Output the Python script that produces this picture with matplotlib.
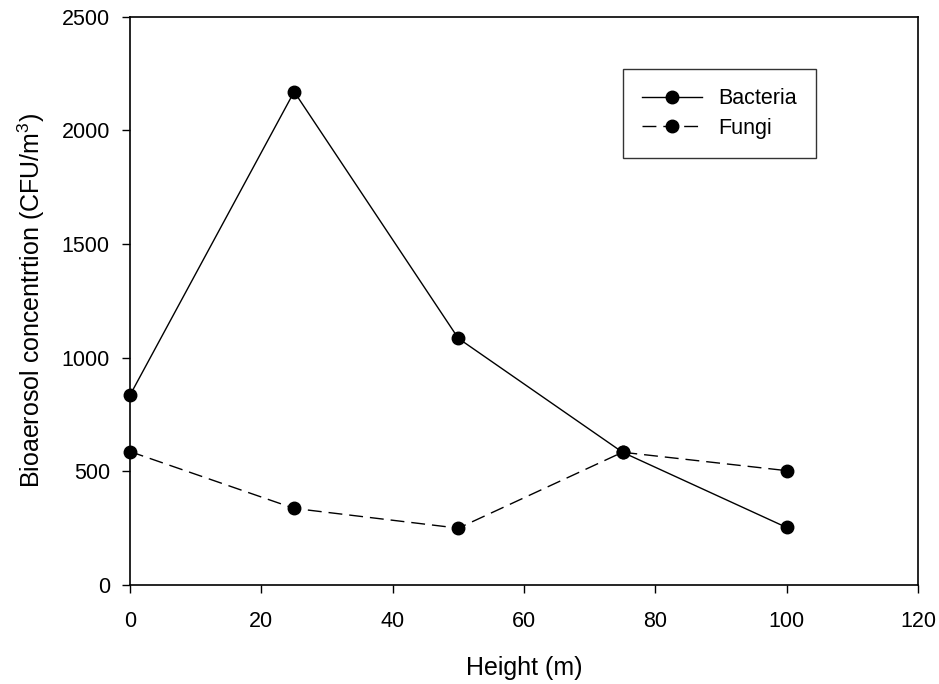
import matplotlib
matplotlib.use("Agg")
import matplotlib.pyplot as plt

plt.rcParams['font.family'] = ['Liberation Sans', 'DejaVu Sans']
plt.rcParams['mathtext.fontset'] = 'custom'
plt.rcParams['mathtext.rm'] = 'Liberation Sans'
plt.rcParams['mathtext.it'] = 'Liberation Sans:italic'
plt.rcParams['mathtext.bf'] = 'Liberation Sans:bold'

height = [0, 25, 50, 75, 100]
bacteria = [835, 2170, 1085, 584, 253]
fungi = [587, 337, 250, 584, 503]
xticks = [0, 20, 40, 60, 80, 100, 120]
yticks = [0, 500, 1000, 1500, 2000, 2500]

fig = plt.figure(figsize=(9.39, 6.84), dpi=100)
ax_h = 585 - 16.7
ax = fig.add_axes([130/939, 1 - 585/684, (918-130)/939, ax_h/684])

ax.plot(height, bacteria, color='black', lw=1.0, marker='o', ms=9, label='Bacteria', clip_on=False, zorder=3)
ax.plot(height, fungi, color='black', lw=1.0, marker='o', ms=9, dashes=(10, 5), label='Fungi', clip_on=False, zorder=3)

ax.set_xlim(0, 120)
ax.set_ylim(0, 2500)
ax.set_xticks(xticks)
ax.set_yticks(yticks)
ax.tick_params(direction='out', length=6, width=1, labelsize=15.5)
ax.tick_params(axis='x', pad=13)
ax.tick_params(axis='y', pad=8.5)
for s in ax.spines.values():
    s.set_linewidth(1.2)

ax.set_xlabel('Height (m)', fontsize=18, va='baseline')
ax.xaxis.set_label_coords(0.5, (585 - 675) / ax_h)
ax.set_ylabel('Bioaerosol concentrtion (CFU/m$^\\mathrm{3}$)', fontsize=18, va='baseline', rotation_mode='anchor')
ax.yaxis.set_label_coords((40 - 130) / 788, 0.5)

leg = ax.legend(loc='upper left', bbox_to_anchor=((622.7-130)/788, 1 - (69-16.7)/ax_h),
                frameon=True, fancybox=False, edgecolor='black', fontsize=15.5,
                handlelength=2.8, borderpad=0.9, labelspacing=0.38, handletextpad=0.75,
                borderaxespad=0)
leg.get_frame().set_linewidth(1.0)

fig.savefig('out.png', dpi=100)
